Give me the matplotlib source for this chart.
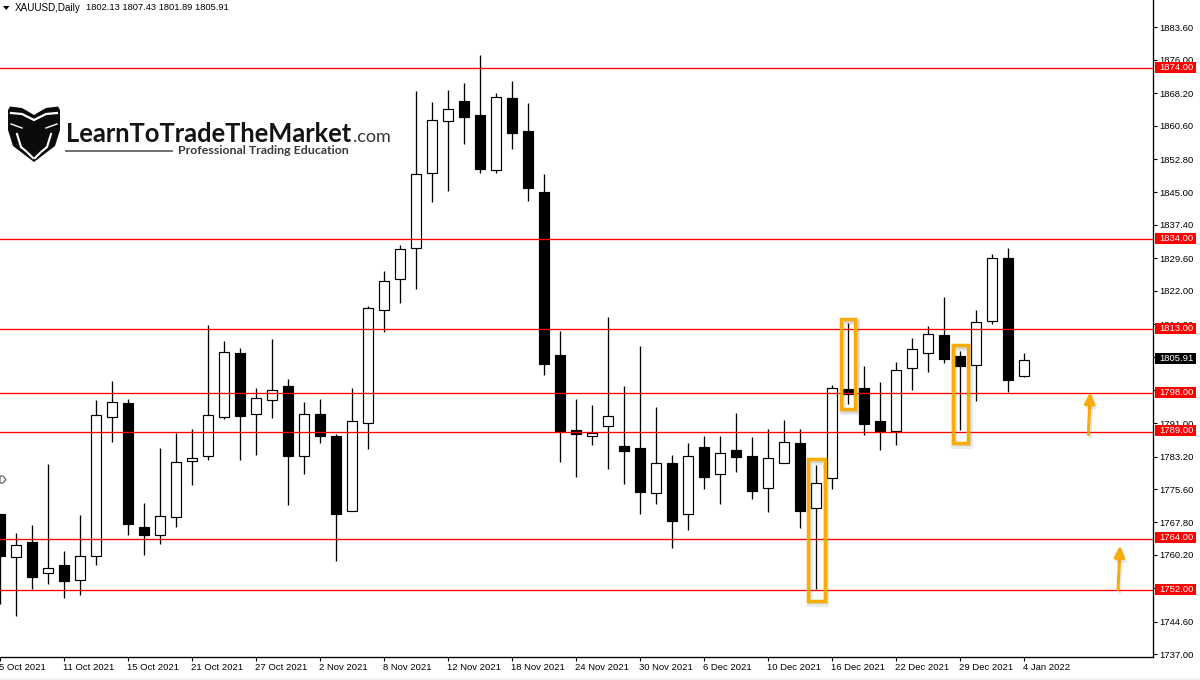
import matplotlib
matplotlib.use("Agg")
import matplotlib.pyplot as plt
import matplotlib.patheffects as pe
from matplotlib.patches import Rectangle, Polygon
from matplotlib.transforms import blended_transform_factory, ScaledTranslation

# daily candles
opens = [1769.67, 1759.78, 1763.12, 1756.03, 1757.74, 1754.39, 1760.01, 1792.52, 1795.64, 1766.63,
         1764.92, 1769.13, 1782.23, 1783.40, 1792.52, 1807.33, 1793.23, 1796.50, 1799.61, 1783.40,
         1793.06, 1787.92, 1770.54, 1791.12, 1817.55, 1824.81, 1832.06, 1849.60, 1861.77, 1866.51,
         1863.01, 1850.30, 1866.98, 1859.26, 1844.99, 1806.86, 1789.32, 1788.08, 1790.42, 1785.58,
         1785.11, 1774.75, 1781.60, 1769.83, 1785.34, 1779.19, 1784.64, 1783.24, 1775.92, 1781.76,
         1786.28, 1771.24, 1778.26, 1798.91, 1799.15, 1791.43, 1789.16, 1803.99, 1807.50, 1811.54,
         1806.63, 1804.69, 1814.98, 1829.55, 1802.13]
highs = [1769.67, 1765.23, 1767.10, 1781.37, 1761.02, 1769.44, 1796.34, 1800.78, 1796.57, 1772.24,
         1785.27, 1788.62, 1789.55, 1813.88, 1810.14, 1808.50, 1799.14, 1810.61, 1801.25, 1795.87,
         1796.57, 1788.38, 1799.14, 1818.33, 1826.51, 1832.76, 1868.62, 1866.05, 1868.85, 1870.49,
         1877.27, 1868.15, 1870.96, 1865.81, 1849.20, 1812.48, 1796.57, 1795.17, 1815.75, 1799.61,
         1808.97, 1794.70, 1783.47, 1786.28, 1787.92, 1787.92, 1793.30, 1787.68, 1789.55, 1791.66,
         1789.55, 1781.13, 1799.85, 1814.35, 1804.29, 1800.55, 1805.23, 1810.84, 1813.65, 1820.43,
         1807.80, 1817.39, 1830.49, 1831.89, 1807.43]
lows = [1748.62, 1745.88, 1752.13, 1753.37, 1750.09, 1750.79, 1757.81, 1786.58, 1764.83, 1760.15,
        1762.72, 1766.70, 1776.53, 1782.37, 1791.96, 1782.37, 1783.54, 1792.20, 1771.85, 1779.03,
        1786.35, 1758.68, 1770.54, 1784.88, 1812.31, 1819.10, 1822.37, 1842.72, 1845.30, 1856.29,
        1849.51, 1849.51, 1855.12, 1842.96, 1802.19, 1781.90, 1778.39, 1785.88, 1780.27, 1776.76,
        1769.74, 1772.08, 1761.79, 1766.00, 1775.59, 1772.08, 1779.57, 1773.25, 1770.21, 1781.76,
        1766.47, 1752.13, 1775.59, 1795.47, 1788.22, 1784.71, 1785.88, 1798.75, 1802.96, 1805.06,
        1789.39, 1796.17, 1814.19, 1798.21, 1801.89]
closes = [1759.92, 1762.58, 1755.00, 1757.20, 1754.07, 1760.01, 1792.99, 1796.03, 1767.40, 1764.83,
          1769.37, 1782.00, 1782.93, 1792.99, 1807.73, 1792.66, 1796.97, 1798.84, 1783.31, 1793.23,
          1787.99, 1769.74, 1791.59, 1818.02, 1824.34, 1831.82, 1849.37, 1862.00, 1864.57, 1862.61,
          1850.44, 1867.38, 1858.86, 1846.00, 1804.83, 1789.09, 1788.45, 1788.78, 1792.76, 1784.48,
          1774.89, 1781.76, 1768.10, 1783.40, 1778.39, 1784.10, 1783.08, 1775.12, 1782.93, 1786.68,
          1770.44, 1777.09, 1799.31, 1797.81, 1790.72, 1789.09, 1803.52, 1808.43, 1811.94, 1806.00,
          1804.36, 1814.75, 1829.72, 1801.09, 1805.91]

date_labels = ["5 Oct 2021", "11 Oct 2021", "15 Oct 2021", "21 Oct 2021", "27 Oct 2021", "2 Nov 2021",
               "8 Nov 2021", "12 Nov 2021", "18 Nov 2021", "24 Nov 2021", "30 Nov 2021", "6 Dec 2021",
               "10 Dec 2021", "16 Dec 2021", "22 Dec 2021", "29 Dec 2021", "4 Jan 2022"]
price_ticks = [1883.60, 1876.00, 1868.20, 1860.60, 1852.80, 1845.00, 1837.40, 1829.60, 1822.00, 1814.20,
               1806.40, 1798.80, 1791.00, 1783.20, 1775.60, 1767.80, 1760.20, 1752.40, 1744.60, 1737.00]
levels = [1874.00, 1834.00, 1813.00, 1798.00, 1789.00, 1764.00, 1752.00]

# candle index, top price, bottom price, width in bars
boxes = [(51, 1782.61, 1749.48, 1.03), (53, 1815.35, 1794.23, 0.90), (60, 1809.27, 1786.44, 0.97)]
# tail bar, tail price, tip bar, tip price
arrows = [(68.0, 1788.38, 68.12, 1798.3), (69.86, 1752.13, 69.98, 1762.4)]

ORANGE = "#F9AB06"
FONT = ["Liberation Sans", "DejaVu Sans"]
LOGO = ["Lato", "DejaVu Sans"]
W, H = 1200, 680
TICK_SIZE = 6.8

plt.rcParams["font.family"] = FONT
fig = plt.figure(figsize=(W / 100, H / 100), dpi=100)
ax = fig.add_axes([0, 1 - 657.3 / H, 1153.3 / W, 657.3 / H])

# candles
x = list(range(len(opens)))
ax.vlines(x, lows, highs, color="black", lw=0.95, zorder=2)
for i in x:
    bottom = min(opens[i], closes[i])
    size = abs(closes[i] - opens[i])
    fc = "white" if closes[i] >= opens[i] else "black"
    ax.bar(i, size, 0.62, bottom=bottom, facecolor=fc, edgecolor="black", lw=0.85, zorder=3)

ax.set_xlim(-0.3 / 16, 1153 / 16)
ax.set_ylim(1736.26, 1890.02)

# horizontal levels with their price tags
tag_trans = blended_transform_factory(fig.transFigure, ax.transData)
for level in levels:
    ax.axhline(level, color="#FF0000", lw=0.95, zorder=4)
    ax.add_patch(Rectangle((1155 / W, level - 1.05), 41 / W, 2.57, transform=tag_trans,
                           facecolor="#FF0000", edgecolor="none", clip_on=False, zorder=6))
    ax.text(1159.3 / W, level + 0.23, f"{level:.2f}", transform=tag_trans, color="white",
            fontsize=TICK_SIZE, va="center", ha="left", clip_on=False, zorder=7)

# current price tag
ax.add_patch(Rectangle((1155 / W, closes[-1] - 1.05), 41 / W, 2.57, transform=tag_trans,
                       facecolor="black", edgecolor="none", clip_on=False, zorder=6))
ax.text(1159.3 / W, closes[-1] + 0.23, f"{closes[-1]:.2f}", transform=tag_trans, color="white",
        fontsize=TICK_SIZE, va="center", ha="left", clip_on=False, zorder=7)

# orange highlights
shadow = [pe.SimpleLineShadow(offset=(1.2, -2), shadow_color="#707070", alpha=0.13, linewidth=4.4),
          pe.SimpleLineShadow(offset=(0.8, -1.2), shadow_color="#707070", alpha=0.2),
          pe.Normal()]
for i, top, bottom, width in boxes:
    r = Rectangle((i - width / 2, bottom), width, top - bottom, fill=False, edgecolor=ORANGE,
                  lw=2.5, zorder=5, joinstyle="miter")
    r.set_path_effects(shadow)
    ax.add_patch(r)

for x0, y0, x1, y1 in arrows:
    ann = ax.annotate("", xy=(x1, y1), xytext=(x0, y0), zorder=5,
                      arrowprops=dict(arrowstyle="-|>,head_length=0.6,head_width=0.28", color=ORANGE,
                                      lw=2.2, shrinkA=0, shrinkB=0, mutation_scale=11))
    ann.arrow_patch.set_path_effects([pe.SimpleLineShadow(offset=(1.2, -2), shadow_color="#707070", alpha=0.16),
                                      pe.Normal()])

# axes look like the terminal window
for side in ["top", "left"]:
    ax.spines[side].set_visible(False)
for side in ["right", "bottom"]:
    ax.spines[side].set_linewidth(0.95)
ax.yaxis.tick_right()
ax.set_yticks(price_ticks)
ax.set_yticklabels([f"{v:.2f}" for v in price_ticks])
ax.tick_params(axis="y", length=2.9, width=0.8, pad=1.5, labelsize=TICK_SIZE)
ax.set_xticks(list(range(0, len(opens), 4)))
ax.set_xticklabels(date_labels)
ax.tick_params(axis="x", length=2.6, width=0.8, pad=1.6, labelsize=TICK_SIZE)
shift = ScaledTranslation(-1 / 72, 0, fig.dpi_scale_trans)
for label in ax.get_xticklabels():
    label.set_ha("left")
    label.set_transform(label.get_transform() + shift)

# everything below is placed in window pixels
over = fig.add_axes([0, 0, 1, 1], facecolor="none")
over.set_xlim(0, W)
over.set_ylim(H, 0)
over.axis("off")

over.add_patch(Rectangle((0, 678), W, 2, facecolor="#F0F0F0", edgecolor="none"))
over.add_patch(Polygon([(3, 6), (9.5, 6), (6.2, 10)], facecolor="black", edgecolor="none"))
over.add_patch(Polygon([(0, 476), (3, 476), (6, 479.5), (3, 483), (0, 483)], facecolor="white",
                       edgecolor="#555555", lw=0.8))
over.text(15, 8, "XAUUSD,Daily", fontsize=7.1, va="center", ha="left")
over.text(85.5, 8, f"{opens[-1]:.2f} {highs[-1]:.2f} {lows[-1]:.2f} {closes[-1]:.2f}",
          fontsize=6.7, va="center", ha="left")

# logo
over.add_patch(Polygon([(8, 110), (10, 106.5), (22, 108), (29, 112), (34, 115), (39, 112), (46, 108), (58, 106.5), (60, 110),
                        (60, 130), (55, 146), (34, 162), (13, 146), (8, 130)],
                       facecolor="#0B0B0B", edgecolor="none"))
over.plot([11, 22, 34, 46, 57], [113, 114, 120, 114, 113], color="white", lw=1.6, solid_joinstyle="miter")
over.plot([11, 22], [124, 128], color="white", lw=1.0)
over.plot([57, 46], [124, 128], color="white", lw=1.0)
over.plot([17, 21, 27, 33], [134, 147, 152, 158], color="white", lw=1.5)
over.plot([51, 47, 41, 35], [134, 147, 152, 158], color="white", lw=1.5)
over.text(65.5, 142, "LearnToTradeTheMarket", family=LOGO, fontsize=18.4, fontweight="bold",
          color="#141414", va="baseline", ha="left")
over.text(353, 142, ".com", family=LOGO, fontsize=13, color="#333333", va="baseline", ha="left")
over.plot([66, 172], [151, 151], color="#555555", lw=1.2)
over.text(178, 154.5, "Professional Trading Education", family=LOGO, fontsize=8.9, fontweight="bold",
          color="#3A3A3A", va="baseline", ha="left")

fig.savefig("out.png", dpi=100)
